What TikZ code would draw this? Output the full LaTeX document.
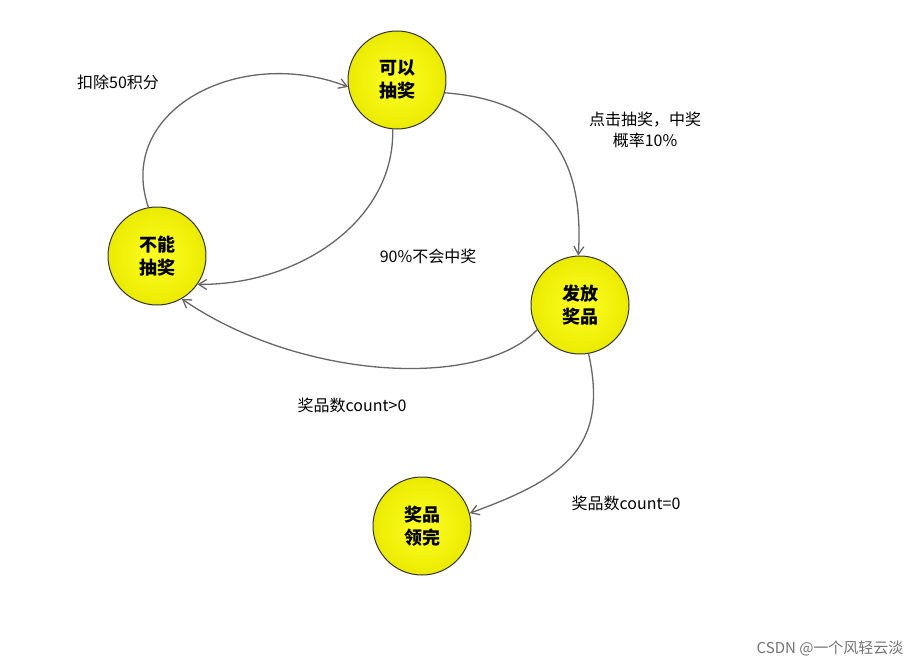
\documentclass[tikz,border=0pt]{standalone}
\usepackage{fontspec}
\setmainfont{Liberation Sans}
\newfontfamily\cjk{Noto Sans CJK SC}
\usetikzlibrary{arrows.meta}
\begin{document}
\begin{tikzpicture}[
    x=1pt, y=-1pt,
    >={Straight Barb[length=8pt,width=10pt]},
    state/.style={circle, draw=black!80, line width=1pt,
      inner color=yellow!85!white, outer color=yellow!92!black, minimum size=98pt, inner sep=0pt,
      align=center, font=\cjk\bfseries\fontsize{18}{23}\selectfont},
    trans/.style={->, draw=black!60, line width=1.3pt},
    lbl/.style={font=\cjk\fontsize{16}{21}\selectfont, align=center}
  ]
  \useasboundingbox (0,0) rectangle (923,669);
  \node[state] (can) at (397,80) {可以\\抽奖};
  \node[state] (cannot) at (157,256) {不能\\抽奖};
  \node[state] (give) at (580,305) {发放\\奖品};
  \node[state] (done) at (422,526) {奖品\\领完};

  \draw[trans] (cannot.100) .. controls (115,110) and (240,45) .. (can.188);
  \draw[trans] (can.265) .. controls (395,220) and (300,285) .. (cannot.-35);
  \draw[trans] (can.-15) .. controls (540,100) and (585,150) .. (give.92);
  \draw[trans] (give.210) .. controls (480,390) and (300,380) .. (cannot.-60);
  \draw[trans] (give.-80) .. controls (610,450) and (560,480) .. (done.15);

  \node[lbl] (l1) at (118,82) {扣除50积分};
  \node[lbl] (l2) at (645,130) {点击抽奖，中奖\\概率10\%};
  \node[lbl] (l3) at (428,256) {90\%不会中奖};
  \node[lbl] (l4) at (352,405) {奖品数count>0};
  \node[lbl] (l5) at (626,503) {奖品数count=0};
  \node[font=\cjk\fontsize{15}{18}\selectfont, text=black!55, anchor=east] (wm) at (907,648) {CSDN @一个风轻云淡};
\end{tikzpicture}
\end{document}
